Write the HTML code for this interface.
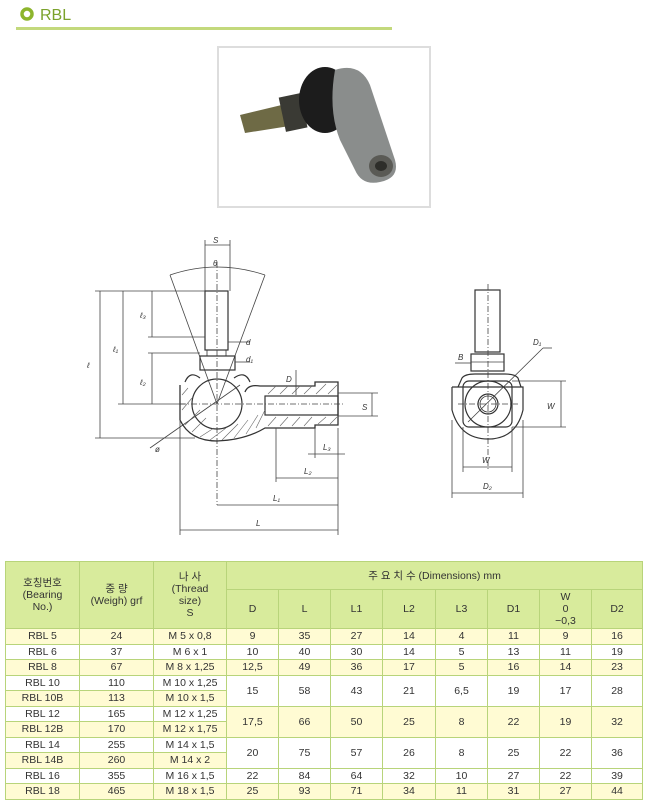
<!DOCTYPE html>
<html><head><meta charset="utf-8"><style>
body{margin:0;background:#fff;width:649px;height:808px;position:relative;overflow:hidden;font-family:"Liberation Sans","Noto Sans CJK KR",sans-serif}
table{position:absolute;left:5px;top:561px;border-collapse:collapse;width:637px;table-layout:fixed;font-size:10.5px;color:#333}
td{border:1px solid #b8d47a;text-align:center;padding:0;height:14.5px;line-height:12px}
.h{background:#d8eb9c}
.y{background:#fffbd3}
</style></head><body>
<svg width="649" height="560" style="position:absolute;left:0;top:0" font-family="Liberation Sans, sans-serif">
<circle cx="27" cy="14" r="5" fill="none" stroke="#8db52d" stroke-width="3.5"/>
<text x="40" y="20" font-size="16" fill="#7ba22c">RBL</text>
<rect x="16" y="27" width="376" height="3" fill="#c3d97c"/>
<!-- photo -->
<rect x="218" y="47" width="212" height="160" fill="#fff" stroke="#ddd" stroke-width="2"/>
<path d="M240 115 L290 103 L296 125 L245 133 Z" fill="#6e6a45"/>
<rect x="282" y="95" width="22" height="35" fill="#3a3a34" transform="rotate(-12 293 112)"/>
<ellipse cx="325" cy="100" rx="26" ry="33" fill="#1c1c1c"/>
<path d="M335 70 Q360 62 370 85 L395 160 Q400 178 380 182 Q362 186 355 170 L340 140 Q328 110 335 70 Z" fill="#8a8d8c"/>
<ellipse cx="381" cy="166" rx="12" ry="11" fill="#5a5a55"/>
<ellipse cx="381" cy="166" rx="6" ry="5" fill="#2e2e2a"/>
<g stroke="#444" fill="none" stroke-width="0.8">
<path d="M170 275 Q217 259 265 275"/>
<line x1="170" y1="275" x2="217" y2="404"/><line x1="265" y1="275" x2="217" y2="404"/>
<line x1="205" y1="240" x2="205" y2="291"/><line x1="230" y1="240" x2="230" y2="291"/>
<line x1="205" y1="245" x2="230" y2="245"/>
<rect x="205" y="291" width="23" height="59" stroke="#333" stroke-width="1.2"/>
<rect x="207" y="350" width="19" height="6" stroke="#333"/>
<rect x="200" y="356" width="35" height="14" stroke="#333" stroke-width="1.2"/>
<line x1="217" y1="262" x2="217" y2="505" stroke-dasharray="6 2 1 2"/>
<path d="M180 385 L180 420 Q190 441 217 441 Q245 440 265 428 L315 428 L315 425 L338 425 L338 382 L315 382 L315 386 L260 386 Q248 384 245 392" stroke="#333" stroke-width="1.3"/>
<path d="M185 382 Q190 370 200 378 M234 378 Q245 370 250 382" stroke="#333" stroke-width="1.2"/>
<circle cx="217" cy="404" r="25" stroke="#333" stroke-width="1.2"/>
<rect x="265" y="396" width="73" height="19" stroke="#333" stroke-width="1.2"/>
<g stroke="#666" stroke-width="0.6">
<line x1="185" y1="425" x2="200" y2="410"/><line x1="192" y1="432" x2="206" y2="418"/><line x1="200" y1="437" x2="214" y2="428"/><line x1="210" y1="440" x2="226" y2="428"/><line x1="222" y1="440" x2="238" y2="424"/><line x1="234" y1="438" x2="248" y2="420"/><line x1="246" y1="434" x2="258" y2="415"/><line x1="256" y1="428" x2="265" y2="410"/>
<line x1="268" y1="394" x2="276" y2="386"/><line x1="280" y1="394" x2="288" y2="386"/><line x1="292" y1="394" x2="300" y2="386"/><line x1="304" y1="394" x2="312" y2="386"/><line x1="316" y1="394" x2="326" y2="384"/><line x1="328" y1="394" x2="337" y2="385"/>
<line x1="268" y1="426" x2="276" y2="417"/><line x1="280" y1="426" x2="288" y2="417"/><line x1="292" y1="426" x2="300" y2="417"/><line x1="304" y1="426" x2="312" y2="417"/><line x1="318" y1="424" x2="326" y2="417"/><line x1="330" y1="424" x2="337" y2="417"/>
<line x1="182" y1="395" x2="188" y2="388"/><line x1="182" y1="410" x2="192" y2="398"/>
</g>
<line x1="180" y1="404" x2="345" y2="404" stroke-dasharray="6 2 1 2"/>
<line x1="150" y1="448" x2="240" y2="385"/>
<line x1="95" y1="291" x2="205" y2="291"/><line x1="95" y1="438" x2="195" y2="438"/>
<line x1="100" y1="291" x2="100" y2="438"/>
<line x1="123" y1="291" x2="123" y2="404"/><line x1="118" y1="404" x2="185" y2="404"/>
<line x1="152" y1="291" x2="152" y2="337"/><line x1="148" y1="337" x2="205" y2="337"/>
<line x1="152" y1="353" x2="152" y2="404"/><line x1="148" y1="353" x2="200" y2="353"/>
<line x1="228" y1="342" x2="250" y2="342"/><line x1="235" y1="362" x2="250" y2="362"/>
<line x1="296" y1="370" x2="296" y2="395"/>
<line x1="338" y1="393" x2="378" y2="393"/><line x1="338" y1="416" x2="378" y2="416"/><line x1="372" y1="393" x2="372" y2="416"/>
<line x1="180" y1="420" x2="180" y2="535"/><line x1="338" y1="428" x2="338" y2="535"/>
<line x1="315" y1="428" x2="315" y2="458"/><line x1="276" y1="428" x2="276" y2="482"/>
<line x1="308" y1="454" x2="345" y2="454"/>
<line x1="276" y1="478" x2="338" y2="478"/>
<line x1="217" y1="505" x2="338" y2="505"/>
<line x1="180" y1="530" x2="338" y2="530"/>
<rect x="475" y="290" width="25" height="62" stroke="#333" stroke-width="1.2"/>
<rect x="471" y="354" width="33" height="17" stroke="#333" stroke-width="1.2"/>
<line x1="471" y1="362" x2="504" y2="362"/>
<line x1="488" y1="284" x2="488" y2="470" stroke-dasharray="6 2 1 2"/>
<path d="M458 387 L462 378 Q465 374 475 374 L505 374 Q515 374 518 378 L521 387" stroke="#333" stroke-width="1.2"/>
<path d="M452 387 L452 410 Q460 439 488 439 Q516 439 523 410 L523 387 L452 387" stroke="#333" stroke-width="1.2"/>
<rect x="463" y="381" width="49" height="46" rx="6" stroke="#333" stroke-width="1.2"/>
<circle cx="488" cy="404" r="23" stroke="#333" stroke-width="1.2"/>
<circle cx="488" cy="404" r="10" stroke="#333" stroke-width="1.2"/>
<circle cx="488" cy="404" r="8" stroke="#333"/>
<line x1="458" y1="404" x2="518" y2="404" stroke-dasharray="6 2 1 2"/>
<line x1="468" y1="422" x2="543" y2="348"/><line x1="543" y1="348" x2="552" y2="348"/>
<line x1="455" y1="363" x2="471" y2="363"/>
<line x1="512" y1="381" x2="566" y2="381"/><line x1="512" y1="427" x2="566" y2="427"/>
<line x1="561" y1="381" x2="561" y2="427"/>
<line x1="463" y1="427" x2="463" y2="472"/><line x1="512" y1="427" x2="512" y2="472"/>
<line x1="463" y1="467" x2="512" y2="467"/>
<line x1="452" y1="420" x2="452" y2="498"/><line x1="523" y1="420" x2="523" y2="498"/>
<line x1="452" y1="493" x2="523" y2="493"/>
</g>
<g font-size="8" fill="#333" font-style="italic">
<text x="213" y="243">S</text><text x="213" y="266">θ</text>
<text x="87" y="368">ℓ</text><text x="113" y="352">ℓ₁</text><text x="140" y="318">ℓ₃</text><text x="140" y="385">ℓ₂</text>
<text x="246" y="345">d</text><text x="246" y="362">d₁</text>
<text x="286" y="382">D</text><text x="362" y="410">S</text>
<text x="155" y="452">ø</text>
<text x="323" y="450">L₃</text><text x="304" y="474">L₂</text><text x="273" y="501">L₁</text><text x="256" y="526">L</text>
<text x="458" y="360">B</text><text x="533" y="345">D₁</text><text x="547" y="409">W</text>
<text x="482" y="463">W</text><text x="483" y="489">D₂</text>
</g>
</svg>
<table>
<colgroup><col style="width:74px"><col style="width:74px"><col style="width:73px"><col style="width:52px"><col style="width:52px"><col style="width:52px"><col style="width:53px"><col style="width:52px"><col style="width:52px"><col style="width:52px"><col style="width:51px"></colgroup>
<tr class="h"><td rowspan="2">호칭번호<br>(Bearing<br>No.)</td><td rowspan="2">중 량<br>(Weigh) grf</td><td rowspan="2">나 사<br>(Thread<br>size)<br>S</td><td colspan="8" style="height:27px">주 요 치 수 (Dimensions) mm</td></tr>
<tr class="h"><td style="height:38px">D</td><td>L</td><td>L1</td><td>L2</td><td>L3</td><td>D1</td><td>W<br>0<br>−0,3</td><td>D2</td></tr>
<tr class="y"><td>RBL 5</td><td>24</td><td>M 5 x 0,8</td><td>9</td><td>35</td><td>27</td><td>14</td><td>4</td><td>11</td><td>9</td><td>16</td></tr>
<tr><td>RBL 6</td><td>37</td><td>M 6 x 1</td><td>10</td><td>40</td><td>30</td><td>14</td><td>5</td><td>13</td><td>11</td><td>19</td></tr>
<tr class="y"><td>RBL 8</td><td>67</td><td>M 8 x 1,25</td><td>12,5</td><td>49</td><td>36</td><td>17</td><td>5</td><td>16</td><td>14</td><td>23</td></tr>
<tr><td>RBL 10</td><td>110</td><td>M 10 x 1,25</td><td rowspan="2">15</td><td rowspan="2">58</td><td rowspan="2">43</td><td rowspan="2">21</td><td rowspan="2">6,5</td><td rowspan="2">19</td><td rowspan="2">17</td><td rowspan="2">28</td></tr>
<tr class="y"><td>RBL 10B</td><td>113</td><td>M 10 x 1,5</td></tr>
<tr><td>RBL 12</td><td>165</td><td>M 12 x 1,25</td><td class="y" rowspan="2">17,5</td><td class="y" rowspan="2">66</td><td class="y" rowspan="2">50</td><td class="y" rowspan="2">25</td><td class="y" rowspan="2">8</td><td class="y" rowspan="2">22</td><td class="y" rowspan="2">19</td><td class="y" rowspan="2">32</td></tr>
<tr class="y"><td>RBL 12B</td><td>170</td><td>M 12 x 1,75</td></tr>
<tr><td>RBL 14</td><td>255</td><td>M 14 x 1,5</td><td rowspan="2">20</td><td rowspan="2">75</td><td rowspan="2">57</td><td rowspan="2">26</td><td rowspan="2">8</td><td rowspan="2">25</td><td rowspan="2">22</td><td rowspan="2">36</td></tr>
<tr class="y"><td>RBL 14B</td><td>260</td><td>M 14 x 2</td></tr>
<tr><td>RBL 16</td><td>355</td><td>M 16 x 1,5</td><td>22</td><td>84</td><td>64</td><td>32</td><td>10</td><td>27</td><td>22</td><td>39</td></tr>
<tr class="y"><td>RBL 18</td><td>465</td><td>M 18 x 1,5</td><td>25</td><td>93</td><td>71</td><td>34</td><td>11</td><td>31</td><td>27</td><td>44</td></tr>
</table>
</body></html>
